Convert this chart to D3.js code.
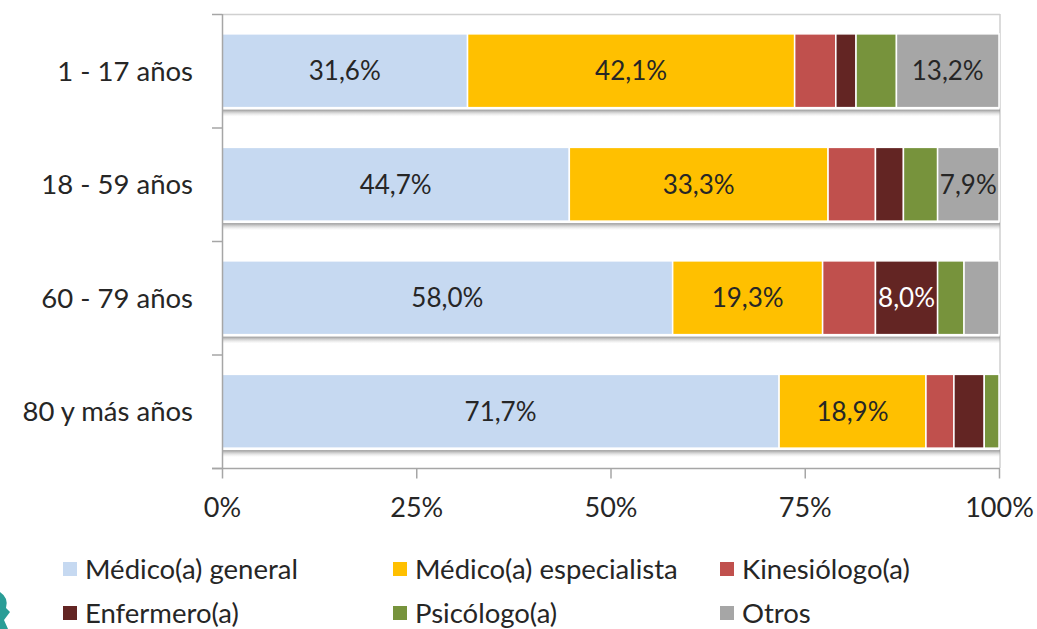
<!DOCTYPE html>
<html>
<head>
<meta charset="utf-8">
<script src="https://cdn.jsdelivr.net/npm/d3@7"></script>
<style>
  body { margin: 0; background: #fff; }
  svg { display: block; font-family: Lato, "Open Sans", sans-serif; }
</style>
</head>
<body>
<svg id="chart"></svg>
<script>
// datos por grupo de edad (porcentaje de consultas por profesional)
const categories = ["1 - 17 años", "18 - 59 años", "60 - 79 años", "80 y más años"];
const seriesNames = ["Médico(a) general", "Médico(a) especialista", "Kinesiólogo(a)", "Enfermero(a)", "Psicólogo(a)", "Otros"];
const medicoGeneral = [31.6, 44.7, 58.0, 71.7];
const medicoEspecialista = [42.1, 33.3, 19.3, 18.9];
const kinesiologo = [5.3, 6.1, 6.8, 3.6];
const enfermero = [2.6, 3.6, 8.0, 3.9];
const psicologo = [5.2, 4.4, 3.4, 1.9];
const otros = [13.2, 7.9, 4.5, 0];
const xTicks = [0, 25, 50, 75, 100];

const colors = ["#c6d9f1", "#ffc000", "#c0504d", "#632523", "#77933c", "#a6a6a6"];
const labelColors = ["#262626", "#262626", "#262626", "#fff", "#262626", "#262626"];

const width = 1037, height = 629;
const svg = d3.select("#chart").attr("width", width).attr("height", height);

const x = d3.scaleLinear().domain([0, 100]).range([222, 999]);
const y = d3.scaleBand().domain(categories).range([14, 468]).paddingInner(0.35).paddingOuter(0.175);

// armar tabla para el stack
const table = categories.map((c, i) => ({
  cat: c,
  s0: medicoGeneral[i], s1: medicoEspecialista[i], s2: kinesiologo[i],
  s3: enfermero[i], s4: psicologo[i], s5: otros[i]
}));
const keys = ["s0", "s1", "s2", "s3", "s4", "s5"];
const stacked = d3.stack().keys(keys)(table);

const defs = svg.append("defs");
const grad = defs.append("linearGradient").attr("id", "shadow")
  .attr("x1", 0).attr("y1", 0).attr("x2", 0).attr("y2", 1);
grad.append("stop").attr("offset", "0%").attr("stop-color", "#8c8c8c").attr("stop-opacity", 0.9);
grad.append("stop").attr("offset", "100%").attr("stop-color", "#d9d9d9").attr("stop-opacity", 0);

// marco de fondo
svg.append("line")
  .attr("x1", x(0)).attr("x2", x(100) + 1).attr("y1", 14.5).attr("y2", 14.5)
  .attr("stroke", "#d0d0d0").attr("stroke-width", 1.5);
svg.append("line")
  .attr("x1", x(100) + 1).attr("x2", x(100) + 1).attr("y1", 14).attr("y2", 468)
  .attr("stroke", "#cfcfcf").attr("stroke-width", 1.5);

// sombras bajo cada barra
svg.append("g").selectAll("rect")
  .data(categories)
  .join("rect")
  .attr("x", x(0))
  .attr("width", x(100) - x(0) + 1)
  .attr("y", d => y(d) + y.bandwidth() + 2)
  .attr("height", 7)
  .attr("fill", "url(#shadow)");

// barras
const layer = svg.append("g").selectAll("g")
  .data(stacked)
  .join("g")
  .attr("fill", (d, i) => colors[i]);

layer.selectAll("rect")
  .data(d => d.filter(p => p[1] - p[0] > 0))
  .join("rect")
  .attr("x", d => x(d[0]))
  .attr("width", d => x(d[1]) - x(d[0]))
  .attr("y", d => y(d.data.cat))
  .attr("height", y.bandwidth())
  .attr("stroke", "#fff")
  .attr("stroke-width", 1.5);

// etiquetas de valores
stacked.forEach((s, i) => {
  svg.append("g").selectAll("text")
    .data(s.filter(p => p[1] - p[0] >= 7.5))
    .join("text")
    .attr("x", d => (x(d[0]) + x(d[1])) / 2)
    .attr("y", d => y(d.data.cat) + y.bandwidth() / 2)
    .attr("dy", "0.36em")
    .attr("text-anchor", "middle")
    .attr("font-size", 26)
    .attr("fill", labelColors[i])
    .text(d => d3.format(".1f")(d[1] - d[0]).replace(".", ",") + "%");
});

// eje y
const yAxis = svg.append("g");
yAxis.append("line")
  .attr("x1", x(0) + 0.5).attr("x2", x(0) + 0.5).attr("y1", 14).attr("y2", 468)
  .attr("stroke", "#a6a6a6").attr("stroke-width", 1.5);
yAxis.selectAll(".tk")
  .data(d3.range(categories.length + 1))
  .join("line")
  .attr("x1", x(0) - 10).attr("x2", x(0))
  .attr("y1", i => 14 + i * y.step() + 0.5)
  .attr("y2", i => 14 + i * y.step() + 0.5)
  .attr("stroke", "#a6a6a6").attr("stroke-width", 1.5);
yAxis.selectAll("text")
  .data(categories)
  .join("text")
  .attr("x", 193)
  .attr("y", d => y(d) + y.bandwidth() / 2)
  .attr("dy", "0.36em")
  .attr("text-anchor", "end")
  .attr("font-size", 27.5)
  .attr("fill", "#262626")
  .text(d => d);

// eje x
const xAxis = svg.append("g")
  .attr("transform", "translate(0,468.5)")
  .call(d3.axisBottom(x).tickValues(xTicks).tickSize(10).tickPadding(19).tickFormat(d => d + "%"));
xAxis.select(".domain").attr("d", "M212,0H" + (x(100) + 1)).attr("stroke", "#a6a6a6").attr("stroke-width", 1.5);
xAxis.selectAll(".tick line").attr("stroke", "#a6a6a6").attr("stroke-width", 1.5);
xAxis.selectAll(".tick text").attr("font-size", 27).attr("fill", "#262626").attr("font-family", "Lato, sans-serif");

// leyenda
const legendPos = [[63, 569], [393, 569], [720, 569], [63, 613], [393, 613], [720, 613]];
const legend = svg.append("g").selectAll("g")
  .data(seriesNames)
  .join("g")
  .attr("transform", (d, i) => "translate(" + legendPos[i][0] + "," + legendPos[i][1] + ")");
legend.append("rect")
  .attr("x", 0).attr("y", -7).attr("width", 14).attr("height", 14)
  .attr("fill", (d, i) => colors[i]);
legend.append("text")
  .attr("x", 22).attr("dy", "0.36em")
  .attr("font-size", 27.5)
  .attr("fill", "#262626")
  .text(d => d);

// resto de logo en la esquina
svg.append("path")
  .attr("d", "M0,592 Q9,598 6,608 L10,612 L4,620 L8,629 L0,629 Z")
  .attr("fill", "#2a9d96");
</script>
</body>
</html>
